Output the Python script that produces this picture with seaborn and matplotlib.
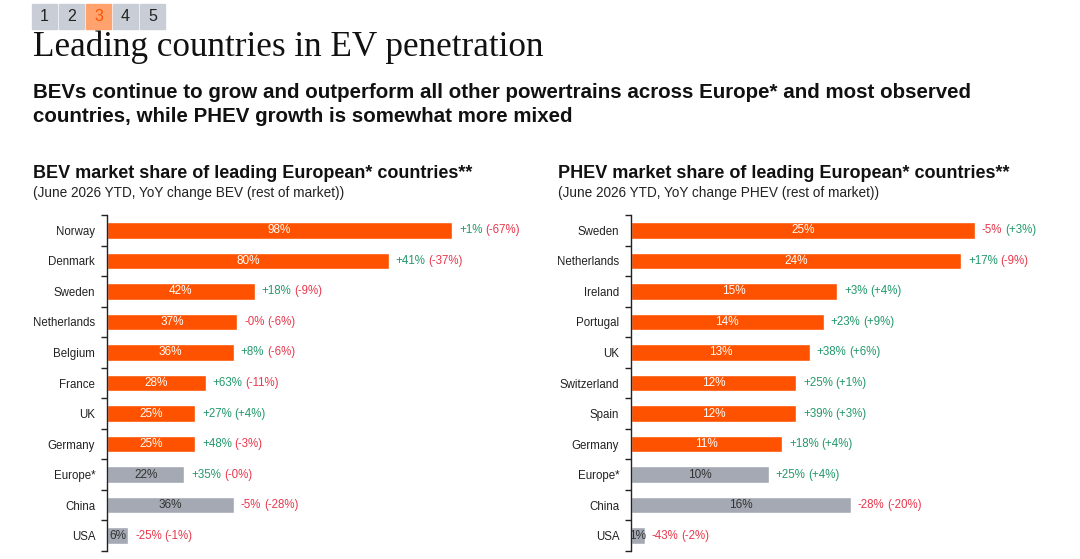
import numpy as np
import pandas as pd
import matplotlib.pyplot as plt
import seaborn as sns
from matplotlib.patches import Rectangle

# Data
bev_countries = ['Norway', 'Denmark', 'Sweden', 'Netherlands', 'Belgium', 'France',
                 'UK', 'Germany', 'Europe*', 'China', 'USA']
bev_share = [98, 80, 42, 37, 36, 28, 25, 25, 22, 36, 6]
bev_yoy = [1, 41, 18, -0.0, 8, 63, 27, 48, 35, -5, -25]
bev_rest = [-67, -37, -9, -6, -6, -11, 4, -3, -0.0, -28, -1]

phev_countries = ['Sweden', 'Netherlands', 'Ireland', 'Portugal', 'UK', 'Switzerland',
                  'Spain', 'Germany', 'Europe*', 'China', 'USA']
phev_share = [25, 24, 15, 14, 13, 12, 12, 11, 10, 16, 1]
phev_yoy = [-5, 17, 3, 23, 38, 25, 39, 18, 25, -28, -43]
phev_rest = [3, -9, 4, 9, 6, 1, 3, 4, 4, -20, -2]

benchmarks = ['Europe*', 'China', 'USA']
pages = ['1', '2', '3', '4', '5']
active_page = '3'

ORANGE = '#FF5200'
GREY = '#A4A9B3'
GREEN = '#22996B'
RED = '#E8384C'

sns.set_theme(style='white')
plt.rcParams['font.family'] = ['Liberation Sans', 'DejaVu Sans']

W, H = 1080, 559
fig = plt.figure(figsize=(W / 100, H / 100), dpi=100)


def fy(px):
    return 1 - px / H


# page selector boxes
box_x = [32, 59, 86, 113, 140]
for bx, p in zip(box_x, pages):
    on = p == active_page
    fig.patches.append(Rectangle((bx / W, fy(29)), 25 / W, 25 / H, transform=fig.transFigure,
                                 color='#FFA26E' if on else '#C9CED6', zorder=0))
    fig.text((bx + 12.5) / W, fy(16.5), p, ha='center', va='center', fontsize=11.5,
             color='#FF5200' if on else '#222222')

fig.text(33 / W, fy(56), 'Leading countries in EV penetration', family='Liberation Serif',
         fontsize=25.3, va='baseline', color='#111111')
fig.text(33 / W, fy(98), 'BEVs continue to grow and outperform all other powertrains across Europe* and most observed',
         fontsize=14.8, fontweight='bold', va='baseline', color='#111111')
fig.text(33 / W, fy(122), 'countries, while PHEV growth is somewhat more mixed',
         fontsize=14.8, fontweight='bold', va='baseline', color='#111111')


def panel(left_px, width_px, xmax, countries, share, yoy, rest, title, sub, title_x):
    ax = fig.add_axes([left_px / W, fy(551), width_px / W, 336 / H])
    df = pd.DataFrame({'country': countries, 'share': share,
                       'kind': ['bench' if c in benchmarks else 'main' for c in countries]})
    sns.barplot(data=df, x='share', y='country', hue='kind', dodge=False, width=0.54,
                palette={'main': ORANGE, 'bench': GREY}, saturation=1, legend=False, ax=ax)
    ax.set_xlim(0, xmax)
    ax.set_ylim(len(countries) - 0.5, -0.5)
    ax.set_xlabel('')
    ax.set_ylabel('')
    ax.set_xticks([])
    for s in ['top', 'right', 'bottom']:
        ax.spines[s].set_visible(False)
    ax.spines['left'].set_color('#222222')
    ax.spines['left'].set_linewidth(1.0)
    ax.set_yticks(np.arange(-0.5, len(countries), 1), minor=True)
    ax.tick_params(axis='y', which='major', length=0, pad=8.5, labelsize=8.3, labelcolor='#222222')
    ax.tick_params(axis='y', which='minor', left=True, length=4, width=1, color='#222222')

    for i, row in df.iterrows():
        inside = '#FFFFFF' if row['kind'] == 'main' else '#333333'
        ax.text(row['share'] / 2, i, f"{row['share']:.0f}%", ha='center', va='center',
                fontsize=8.5, color=inside)
        c1 = RED if np.signbit(yoy[i]) else GREEN
        c2 = RED if np.signbit(rest[i]) else GREEN
        t1 = ax.annotate(f"{yoy[i]:+.0f}%", xy=(row['share'], i), xytext=(5, 0),
                         textcoords='offset points', ha='left', va='center', fontsize=8.3, color=c1)
        ax.annotate(f"({rest[i]:+.0f}%)", xy=(1, 0.5), xycoords=t1, xytext=(2, 0),
                    textcoords='offset points', ha='left', va='center', fontsize=8.3, color=c2)

    fig.text(title_x / W, fy(178), title, fontsize=13, fontweight='bold', va='baseline',
             color='#111111')
    fig.text(title_x / W, fy(196.5), sub, fontsize=9.8, va='baseline', color='#222222')
    return ax


panel(107, 433, 433 / 3.52, bev_countries, bev_share, bev_yoy, bev_rest,
      'BEV market share of leading European* countries**',
      '(June 2026 YTD, YoY change BEV (rest of market))', 33)
panel(631, 440, 440 / 13.75, phev_countries, phev_share, phev_yoy, phev_rest,
      'PHEV market share of leading European* countries**',
      '(June 2026 YTD, YoY change PHEV (rest of market))', 558)

fig.savefig('out.png', dpi=100)
